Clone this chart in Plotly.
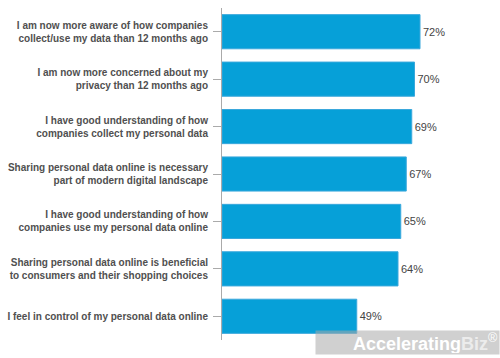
import plotly.graph_objects as go

categories = [
    "I am now more aware of how companies<br>collect/use my data than 12 months ago",
    "I am now more concerned about my<br>privacy than 12 months ago",
    "I have good understanding of how<br>companies collect my personal data",
    "Sharing personal data online is necessary<br>part of modern digital landscape",
    "I have good understanding of how<br>companies use my personal data online",
    "Sharing personal data online is beneficial<br>to consumers and their shopping choices",
    "I feel in control of my personal data online",
]
values = [72, 70, 69, 67, 65, 64, 49]
value_labels = [f"{v}%" for v in values]

fig = go.Figure(
    go.Bar(
        x=values,
        y=categories,
        orientation="h",
        marker=dict(color="#06a0d8", line=dict(color="#3aa8dc", width=1)),
        text=value_labels,
        textposition="outside",
        textfont=dict(family="Liberation Sans, Arial", size=11, color="#444444"),
        cliponaxis=False,
        width=0.72,
    )
)

fig.update_layout(
    width=500,
    height=358,
    margin=dict(l=222, r=3, t=8, b=18),
    paper_bgcolor="white",
    plot_bgcolor="white",
    showlegend=False,
    font=dict(family="Liberation Sans, Arial", size=10, color="#555555"),
    xaxis=dict(range=[0, 100], visible=False, showgrid=False, zeroline=False),
    yaxis=dict(
        autorange="reversed",
        automargin=False,
        showline=True,
        linecolor="#aaaaaa",
        linewidth=1,
        ticks="outside",
        ticklen=8,
        tickcolor="#aaaaaa",
        tickfont=dict(family="Liberation Sans, Arial", size=10, color="#505050", weight="bold"),
        ticklabelstandoff=3,
        showgrid=False,
    ),
)

fig.add_annotation(
    x=1.0, y=0.0, xref="paper", yref="paper",
    xanchor="right", yanchor="bottom",
    xshift=3, yshift=-15,
    text="<b>Accelerating<span style='color:#ececec'>Biz</span></b><sup>®</sup>",
    showarrow=False,
    font=dict(family="Liberation Sans, Arial", size=18, color="white"),
    bgcolor="rgba(170,170,170,0.55)",
    borderpad=1,
    width=181,
    height=21,
    align="right",
)

fig.write_html(
    "out.html",
    config={"displayModeBar": False},
    post_script="document.body.style.margin='0';document.body.style.overflow='hidden';",
)
